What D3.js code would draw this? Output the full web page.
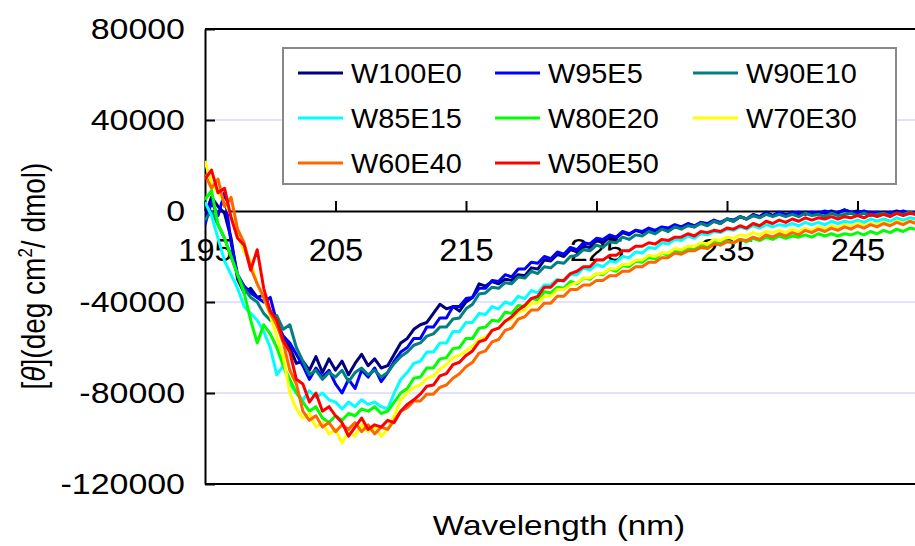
<!DOCTYPE html>
<html>
<head>
<meta charset="utf-8">
<script src="https://cdn.jsdelivr.net/npm/d3@7"></script>
<style>
body { margin: 0; background: #fff; }
text { font-family: "Liberation Sans", Arial, sans-serif; fill: #000; }
</style>
</head>
<body>
<script>
// wavelength (nm), 0.5 nm steps
const wavelength = [
  195,195.5,196,196.5,197,197.5,198,198.5,199,199.5,
  200,200.5,201,201.5,202,202.5,203,203.5,204,204.5,
  205,205.5,206,206.5,207,207.5,208,208.5,209,209.5,
  210,210.5,211,211.5,212,212.5,213,213.5,214,214.5,
  215,215.5,216,216.5,217,217.5,218,218.5,219,219.5,
  220,220.5,221,221.5,222,222.5,223,223.5,224,224.5,
  225,225.5,226,226.5,227,227.5,228,228.5,229,229.5,
  230,230.5,231,231.5,232,232.5,233,233.5,234,234.5,
  235,235.5,236,236.5,237,237.5,238,238.5,239,239.5,
  240,240.5,241,241.5,242,242.5,243,243.5,244,244.5,
  245,245.5,246,246.5,247,247.5,248,248.5,249,249.5,
  250];

// [theta] (deg cm2/dmol)
const w100e0 = [
  -2000,6000,2000,-1000,-12000,-30000,-36000,-34000,-38000,-37000,
  -44000,-50000,-56000,-60000,-67000,-66000,-70000,-64000,-71000,-65000,
  -70000,-66000,-72000,-67000,-63000,-68000,-65000,-69000,-68000,-63000,
  -58000,-56000,-52000,-50000,-49000,-45000,-41000,-43000,-42000,-44000,
  -40000,-38000,-32000,-33000,-31000,-32000,-30000,-30500,-28000,-28500,
  -25000,-25500,-21500,-22000,-19000,-20000,-17000,-18000,-15500,-16000,
  -13000,-14000,-11500,-12000,-9500,-10500,-8500,-9500,-8000,-9000,
  -7500,-8500,-6500,-7500,-6000,-7000,-5000,-6000,-4500,-5500,
  -3500,-4500,-2500,-3500,-1500,-2500,-500,-2000,-1000,-2000,
  -500,-1500,-500,-1500,-500,-1000,0,-1000,500,-500,
  0,-1000,-500,-1500,-500,-1000,0,-1000,-500,-1500,
  -1000];
const w95e5 = [
  -6000,4000,-2000,8000,-14000,-28000,-33000,-36000,-38000,-40000,
  -38000,-49000,-55000,-58000,-63000,-68000,-74000,-69000,-73000,-70000,
  -76000,-80000,-74000,-78000,-70000,-73000,-69000,-75000,-71000,-66000,
  -62000,-60000,-56000,-56000,-51000,-51000,-47000,-47000,-42000,-42000,
  -38500,-38000,-34000,-34000,-30500,-31000,-28000,-29000,-25500,-25500,
  -22500,-23000,-20000,-21000,-18000,-19000,-16000,-17000,-14000,-14500,
  -12000,-12500,-10500,-11500,-9000,-10000,-8500,-9000,-7500,-8500,
  -7000,-7500,-6000,-7000,-5500,-6500,-5000,-5500,-4000,-5000,
  -3500,-4000,-2500,-3500,-2000,-2500,-1000,-2000,-500,-1500,
  -1000,-500,-1500,-500,-1000,0,-1000,-500,500,-500,
  -1000,0,-1000,-500,-1500,-500,-1000,0,-1000,-500,
  -1500];
const w90e10 = [
  -4000,0,-6000,-12000,-20000,-28000,-34000,-38000,-40000,-45000,
  -48000,-46000,-52000,-50000,-60000,-66000,-72000,-70000,-74000,-71000,
  -73000,-70000,-75000,-71000,-69000,-72000,-70000,-73000,-71000,-67000,
  -64000,-62000,-59000,-58000,-55000,-54000,-51000,-51000,-47500,-47000,
  -43000,-41000,-36500,-36000,-33500,-34000,-31500,-32000,-29000,-29500,
  -26500,-27500,-24500,-25000,-22500,-23000,-20000,-19500,-17000,-17500,
  -15000,-16000,-13500,-14000,-11500,-12500,-10500,-11000,-9000,-10000,
  -8000,-9000,-7000,-8000,-6500,-7000,-5500,-6500,-4500,-5500,
  -3500,-4500,-2500,-3500,-2000,-3000,-1500,-2500,-1500,-2500,
  -1500,-2500,-1000,-2000,-1500,-2500,-1000,-2000,-1500,-1000,
  -2000,-1000,-2000,-1500,-1000,-2000,-1000,-1500,-500,-1500,
  -1000];
const w85e15 = [
  4000,-2000,-12000,-22000,-28000,-34000,-42000,-45000,-48000,-53000,
  -60000,-72000,-68000,-76000,-80000,-83000,-79000,-82000,-80000,-83000,
  -84000,-87000,-84000,-86000,-83000,-85000,-84000,-86000,-87000,-80000,
  -74000,-71000,-67000,-66000,-62000,-62000,-58000,-58000,-53000,-53000,
  -49000,-49000,-45000,-45500,-42000,-43000,-40000,-41000,-37500,-38500,
  -35000,-36000,-32500,-32500,-30000,-31000,-28000,-28000,-25000,-26000,
  -23500,-24500,-22000,-22500,-20000,-20500,-18000,-18500,-16000,-16500,
  -14000,-14500,-12500,-13000,-11000,-12000,-10000,-10500,-9000,-9500,
  -8000,-8500,-7000,-8000,-6500,-7500,-6000,-7000,-6000,-6500,
  -5500,-6500,-5000,-6000,-5000,-6000,-4500,-5500,-4500,-5000,
  -4000,-5000,-3500,-4500,-3500,-4500,-3000,-4000,-3000,-3500,
  -2500];
const w80e20 = [
  5000,9000,-6000,-12000,-20000,-28000,-36000,-48000,-58000,-50000,
  -54000,-60000,-68000,-74000,-80000,-84000,-88000,-86000,-91000,-93000,
  -90000,-92000,-89000,-90000,-87000,-88000,-86000,-89000,-88000,-84000,
  -80000,-78000,-73500,-73000,-69000,-69000,-65000,-64500,-60500,-60000,
  -56000,-56000,-51500,-51000,-48000,-48500,-44500,-45000,-41500,-42000,
  -38500,-39000,-35500,-36000,-33500,-34000,-31000,-32000,-29500,-30000,
  -27500,-28000,-25500,-26500,-24000,-24500,-22000,-22500,-20500,-21000,
  -18500,-19500,-17500,-18000,-16000,-17000,-15000,-16000,-13500,-14500,
  -13000,-14000,-12500,-13500,-12000,-13000,-11500,-12500,-11000,-12000,
  -11000,-11500,-10500,-11500,-10000,-11000,-10000,-11000,-10000,-10500,
  -9500,-10500,-9000,-10000,-8500,-9500,-8000,-9000,-7500,-8000,
  -7000];
const w70e30 = [
  22000,12000,8000,4000,-2000,-10000,-18000,-22000,-32000,-38000,
  -46000,-55000,-64000,-80000,-87000,-91000,-89000,-95000,-93000,-98000,
  -96000,-102000,-97000,-99000,-94000,-97000,-95000,-99000,-96000,-90000,
  -83000,-80000,-77500,-76500,-73500,-72500,-69500,-67500,-64500,-63500,
  -61500,-59500,-56500,-55500,-52500,-51500,-48500,-47500,-44500,-43500,
  -40500,-40500,-37500,-37500,-34500,-34500,-32500,-31500,-29500,-29500,
  -27500,-27500,-25500,-25500,-23500,-23500,-21500,-21500,-19500,-20000,
  -18500,-18500,-16500,-17000,-15500,-15500,-14000,-14500,-12500,-13000,
  -11500,-12000,-10500,-11000,-9500,-10500,-9000,-9500,-8500,-9500,
  -8000,-9000,-7500,-8500,-7000,-8000,-6500,-7500,-6000,-7000,
  -5500,-6500,-5500,-6000,-5000,-6000,-4500,-5500,-4500,-5000,
  -4000];
const w60e40 = [
  16000,10000,14000,2000,6000,-8000,-14000,-25000,-32000,-38000,
  -45000,-50000,-58000,-70000,-76000,-88000,-92000,-90000,-95000,-93000,
  -97000,-94000,-96000,-93000,-97000,-94000,-98000,-95000,-96000,-92000,
  -88000,-86500,-83500,-83500,-80500,-80500,-77500,-76500,-73500,-71500,
  -68500,-66500,-62500,-61500,-57500,-56500,-52500,-51500,-47500,-46500,
  -43500,-43500,-40500,-40500,-37500,-37500,-34500,-34500,-32500,-32500,
  -30500,-30500,-28500,-28500,-26500,-26500,-24500,-24500,-22500,-22500,
  -20500,-20500,-18500,-19000,-17500,-17500,-16000,-16500,-14500,-15000,
  -13500,-14000,-12500,-13000,-11500,-12500,-10500,-11500,-10000,-11000,
  -9500,-10500,-8500,-9500,-8000,-9000,-7500,-8500,-7000,-8000,
  -6500,-7500,-6000,-7000,-5500,-6500,-5000,-6000,-4500,-5500,
  -4000];
const w50e50 = [
  14000,18000,8000,10000,-3000,-12000,-15000,-26000,-17000,-34000,
  -44000,-48000,-57000,-62000,-74000,-76000,-84000,-80000,-88000,-86000,
  -90000,-93000,-99000,-95000,-91000,-96000,-94000,-95000,-92000,-93000,
  -88000,-85000,-83000,-80500,-77000,-76500,-72500,-71500,-67500,-66500,
  -63500,-61500,-57500,-56500,-52500,-51500,-48500,-46500,-43500,-41500,
  -38500,-37500,-33500,-33500,-30500,-30500,-27500,-26500,-24500,-24500,
  -21500,-21500,-19500,-19500,-17500,-17500,-15500,-15500,-14000,-14500,
  -12500,-13000,-11500,-11500,-10000,-11000,-9000,-9500,-8500,-9000,
  -7500,-8000,-6500,-7500,-5500,-6500,-4500,-5500,-4000,-5000,
  -3500,-4500,-3000,-4000,-3000,-3500,-2500,-3500,-2500,-3000,
  -2000,-3000,-1500,-2500,-1500,-2500,-1000,-2000,-1000,-1500,
  -500];

const seriesNames = ['W100E0', 'W95E5', 'W90E10', 'W85E15', 'W80E20', 'W70E30', 'W60E40', 'W50E50'];
const seriesValues = [w100e0, w95e5, w90e10, w85e15, w80e20, w70e30, w60e40, w50e50];
const seriesColors = ['#000080', '#0000ff', '#008080', '#00ffff', '#00ff00', '#ffff00', '#ff6600', '#ff0000'];
const xTicks = [195, 205, 215, 225, 235, 245];
const yTicks = [80000, 40000, 0, -40000, -80000, -120000];
const gridValues = [40000, -40000, -80000];

const w = 915, h = 546;
const plotLeft = 205, plotRight = 922.75, plotTop = 29, plotBottom = 484;

const svg = d3.select('body').append('svg')
  .attr('width', w)
  .attr('height', h);

const xScale = d3.scaleLinear().domain([195, 250]).range([plotLeft, plotRight]);
const yScale = d3.scaleLinear().domain([-120000, 80000]).range([plotBottom, plotTop]);

// plain hyphen minus like the original, not d3's unicode minus
const plainNum = d => String(d);

// widen text a little, the original glyphs are stretched sideways
function stretch(sel, f) {
  sel.each(function() {
    d3.select(this)
      .attr('textLength', this.getComputedTextLength() * f)
      .attr('lengthAdjust', 'spacingAndGlyphs');
  });
}

svg.append('clipPath').attr('id', 'clip')
  .append('rect')
  .attr('x', plotLeft).attr('y', plotTop - 2)
  .attr('width', plotRight - plotLeft).attr('height', plotBottom - plotTop + 4);

// grid
svg.append('g').selectAll('line')
  .data(gridValues)
  .join('line')
  .attr('x1', plotLeft).attr('x2', plotRight)
  .attr('y1', d => yScale(d)).attr('y2', d => yScale(d))
  .attr('stroke', '#c4c4ff')
  .attr('stroke-width', 1);

// frame top / bottom
svg.append('line')
  .attr('x1', plotLeft).attr('x2', plotRight)
  .attr('y1', yScale(80000)).attr('y2', yScale(80000))
  .attr('stroke', '#000').attr('stroke-width', 2);
svg.append('line')
  .attr('x1', plotLeft).attr('x2', plotRight)
  .attr('y1', yScale(-120000)).attr('y2', yScale(-120000))
  .attr('stroke', '#000').attr('stroke-width', 2);

// y axis
const yAxis = d3.axisLeft(yScale)
  .tickValues(yTicks)
  .tickSizeInner(-10)
  .tickSizeOuter(0)
  .tickPadding(20)
  .tickFormat(plainNum);
const gy = svg.append('g')
  .attr('transform', 'translate(' + plotLeft + ',0)')
  .call(yAxis);
gy.select('.domain').attr('stroke-width', 2);
gy.selectAll('.tick line').attr('stroke-width', 2);
gy.selectAll('.tick text')
  .attr('font-family', '"Liberation Sans", Arial, sans-serif')
  .attr('font-size', 29)
  .call(stretch, 1.17);

// x axis sits on zero, ticks point up, labels well below
const xAxis = d3.axisBottom(xScale)
  .tickValues(xTicks)
  .tickSizeInner(-10)
  .tickSizeOuter(0)
  .tickPadding(28)
  .tickFormat(plainNum);
const gx = svg.append('g')
  .attr('transform', 'translate(0,' + yScale(0) + ')')
  .call(xAxis);
gx.select('.domain').attr('stroke-width', 2);
gx.selectAll('.tick line').attr('stroke-width', 2);
gx.selectAll('.tick text')
  .attr('font-family', '"Liberation Sans", Arial, sans-serif')
  .attr('font-size', 30.5)
  .call(stretch, 1.07);

// spectra
const line = d3.line()
  .x((d, i) => xScale(wavelength[i]))
  .y(d => yScale(d));

svg.append('g')
  .attr('clip-path', 'url(#clip)')
  .selectAll('path')
  .data(seriesValues)
  .join('path')
  .attr('d', line)
  .attr('fill', 'none')
  .attr('stroke', (d, i) => seriesColors[i])
  .attr('stroke-width', 3)
  .attr('stroke-linejoin', 'round');

// legend
const legend = svg.append('g');
legend.append('rect')
  .attr('x', 283).attr('y', 48)
  .attr('width', 613).attr('height', 136)
  .attr('fill', '#fff')
  .attr('stroke', '#888')
  .attr('stroke-width', 2);

const colX = [298, 495, 693];
const rowY = [73, 118, 163];
const item = legend.selectAll('.item')
  .data(seriesNames)
  .join('g')
  .attr('class', 'item')
  .attr('transform', (d, i) => 'translate(' + colX[i % 3] + ',' + rowY[Math.floor(i / 3)] + ')');
item.append('line')
  .attr('x1', 0).attr('x2', 45)
  .attr('stroke', (d, i) => seriesColors[i])
  .attr('stroke-width', 3);
item.append('text')
  .attr('x', 53)
  .attr('dy', '0.36em')
  .attr('font-size', 27.5)
  .text(d => d)
  .call(stretch, 1.05);

// axis titles
svg.append('text')
  .attr('x', 559)
  .attr('y', 535)
  .attr('text-anchor', 'middle')
  .attr('font-size', 28)
  .text('Wavelength (nm)')
  .call(stretch, 1.19);

const yTitle = svg.append('text')
  .attr('transform', 'translate(45,276) scale(1.18,1) rotate(-90)')
  .attr('text-anchor', 'middle')
  .attr('font-size', 28);
yTitle.append('tspan').text('[');
yTitle.append('tspan').attr('font-style', 'italic').text('\u03b8');
yTitle.append('tspan').text('](deg cm');
yTitle.append('tspan').attr('font-size', 17).attr('dy', -11).text('2');
yTitle.append('tspan').attr('dy', 11).text('/ dmol)');
</script>
</body>
</html>
